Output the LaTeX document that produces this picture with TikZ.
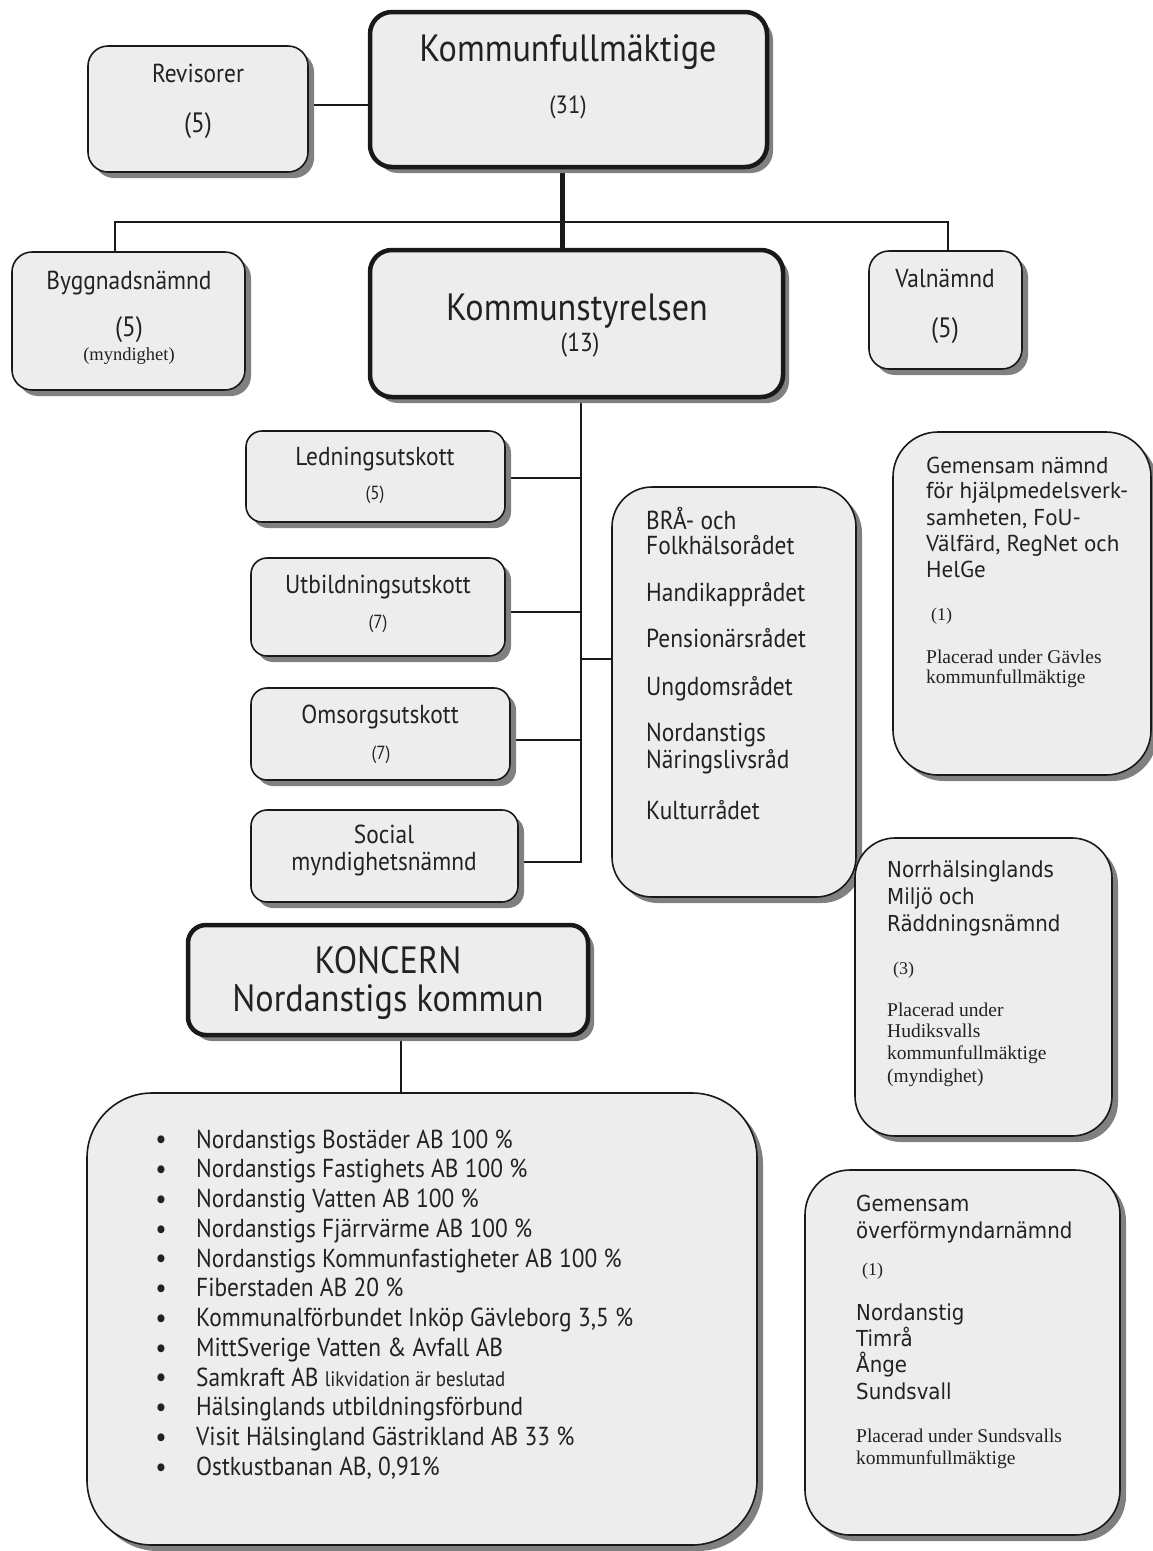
\documentclass[tikz,border=0pt]{standalone}
\usepackage{fontspec}
\setmainfont{PT Sans}[FakeStretch=0.9]
\newfontfamily\widesans{PT Sans}
\newfontfamily\verd{DejaVu Sans}[FakeStretch=0.9]
\newfontfamily\serfont{Liberation Serif}
\usetikzlibrary{shadows,backgrounds}
\definecolor{boxfill}{HTML}{EDEDED}
\definecolor{shadowgray}{HTML}{808080}
\definecolor{ink}{HTML}{222222}
\newcommand\fs[1]{\fontsize{#1}{#1}\selectfont}
\tikzset{
  box/.style={draw=black!90, line width=1.6pt, fill=boxfill, rounded corners=#1, inner sep=0pt,
    drop shadow={shadow xshift=6pt, shadow yshift=-6pt, fill=shadowgray, opacity=1}},
  box/.default=18pt,
  thickbox/.style={box=#1, line width=4.5pt},
  thickbox/.default=18pt,
  tc/.style={inner sep=0pt, anchor=base, text=ink},
  tw/.style={inner sep=0pt, anchor=base west, text=ink},
  ts/.style={font=\fs{#1}, yshift=-#1*0.35pt},
  tser/.style={font=\serfont\fs{#1}, yshift=-#1*0.35pt},
  twide/.style={font=\widesans\fs{#1}, yshift=-#1*0.35pt},
  tverd/.style={font=\verd\fs{#1}, yshift=-#1*0.35pt},
  conn/.style={draw=black!90, line width=1.3pt},
}
\begin{document}
\begin{tikzpicture}[x=1pt,y=-1pt]
\useasboundingbox (0,0) rectangle (1153,1551);
% boxes
\node[box=20pt, minimum width=220pt, minimum height=126pt] (rev) at (198,109) {};
\node[thickbox=22pt, minimum width=397pt, minimum height=155pt] (kf) at (568.5,89.5) {};
\node[box=20pt, minimum width=233pt, minimum height=138pt] (bygg) at (128.5,321) {};
\node[thickbox=22pt, minimum width=413pt, minimum height=147pt] (ks) at (576.5,323.5) {};
\node[box=20pt, minimum width=153pt, minimum height=118pt] (val) at (945.5,310) {};
\node[box=16pt, minimum width=259pt, minimum height=91pt] (led) at (375.5,476.5) {};
\node[box=16pt, minimum width=254pt, minimum height=98pt] (utb) at (378,607) {};
\node[box=16pt, minimum width=259pt, minimum height=92pt] (oms) at (380.5,734) {};
\node[box=16pt, minimum width=267pt, minimum height=92pt] (soc) at (384.5,856) {};
\node[box=40pt, minimum width=244pt, minimum height=410pt] (rad) at (734,692) {};
\node[box=45pt, minimum width=258pt, minimum height=343pt] (gem) at (1022,603.5) {};
\node[box=40pt, minimum width=257pt, minimum height=298pt] (norr) at (983.5,987) {};
\node[box=45pt, minimum width=315pt, minimum height=365pt] (over) at (962.5,1352.5) {};
\node[thickbox=18pt, minimum width=400pt, minimum height=110pt] (kon) at (388,980) {};
\node[box=65pt, minimum width=670pt, minimum height=452pt] (list) at (422,1319) {};

% texts
\node[tc, ts=38] (kft) at (568,48) {Kommunfullmäktige};
\node[tc, ts=25] (kfn) at (568,105) {(31)};
\node[tc, ts=38] (kst) at (577,307) {Kommunstyrelsen};
\node[tc, ts=26] (ksn) at (580,342) {(13)};
\node[tc, ts=26] (revt) at (198,73) {Revisorer};
\node[tc, ts=28] (revn) at (198,123) {(5)};
\node[tc, ts=26] (byggt) at (129,280) {Byggnadsnämnd};
\node[tc, ts=28] (byggn) at (129,327) {(5)};
\node[tc, tser=18.5] (byggm) at (129,354) {(myndighet)};
\node[tc, ts=26] (valt) at (945,278) {Valnämnd};
\node[tc, ts=28] (valn) at (945,328) {(5)};
\node[tc, ts=26] (ledt) at (375,456) {Ledningsutskott};
\node[tc, ts=19] (ledn) at (375,493) {(5)};
\node[tc, ts=26] (utbt) at (378,584) {Utbildningsutskott};
\node[tc, ts=19] (utbn) at (378,622) {(7)};
\node[tc, ts=26] (omst) at (380,714) {Omsorgsutskott};
\node[tc, ts=19] (omsn) at (381,753) {(7)};
\node[tc, ts=26] (soct1) at (384,834) {Social};
\node[tc, ts=26] (soct2) at (384,861) {myndighetsnämnd};
% councils
\node[tw, ts=26] (r1) at (646,520) {BRÅ- och};
\node[tw, ts=26] (r2) at (646,545) {Folkhälsorådet};
\node[tw, ts=26] (r3) at (646,592) {Handikapprådet};
\node[tw, ts=26] (r4) at (646,638) {Pensionärsrådet};
\node[tw, ts=26] (r5) at (646,686) {Ungdomsrådet};
\node[tw, ts=26] (r6) at (646,732) {Nordanstigs};
\node[tw, ts=26] (r7) at (646,759) {Näringslivsråd};
\node[tw, ts=26] (r8) at (646,810) {Kulturrådet};
% gemensam nämnd
\node[tw, twide=23] (g1) at (926,465) {Gemensam nämnd};
\node[tw, twide=23] (g2) at (926,490) {för hjälpmedelsverk-};
\node[tw, twide=23] (g3) at (926,517) {samheten, FoU-};
\node[tw, twide=23] (g4) at (926,543) {Välfärd, RegNet och};
\node[tw, twide=23] (g5) at (926,569) {HelGe};
\node[tw, tser=18] (g6) at (931,614) {(1)};
\node[tw, tser=19.5] (g7) at (926,657) {Placerad under Gävles};
\node[tw, tser=19.5] (g8) at (926,677) {kommunfullmäktige};
% norrhälsinglands
\node[tw, tverd=22] (n1) at (887,870) {Norrhälsinglands};
\node[tw, tverd=22] (n2) at (887,897) {Miljö och};
\node[tw, tverd=22] (n3) at (887,924) {Räddningsnämnd};
\node[tw, tser=18] (n4) at (893,968) {(3)};
\node[tw, tser=19.5] (n5) at (887,1010) {Placerad under};
\node[tw, tser=19.5] (n6) at (887,1031) {Hudiksvalls};
\node[tw, tser=19.5] (n7) at (887,1053) {kommunfullmäktige};
\node[tw, tser=19.5] (n8) at (887,1076) {(myndighet)};
% överförmyndarnämnd
\node[tw, tverd=22] (o1) at (856,1204) {Gemensam};
\node[tw, tverd=22] (o2) at (856,1231) {överförmyndarnämnd};
\node[tw, tser=18] (o3) at (862,1269) {(1)};
\node[tw, tverd=22] (o4) at (856,1313) {Nordanstig};
\node[tw, tverd=22] (o5) at (856,1339) {Timrå};
\node[tw, tverd=22] (o6) at (856,1365) {Ånge};
\node[tw, tverd=22] (o7) at (856,1392) {Sundsvall};
\node[tw, tser=19.5] (o8) at (856,1436) {Placerad under Sundsvalls};
\node[tw, tser=19.5] (o9) at (856,1458) {kommunfullmäktige};
% koncern
\node[tc, ts=38] (kon1) at (388,960) {KONCERN};
\node[tc, ts=38] (kon2) at (388,998) {Nordanstigs kommun};
% list
\foreach \i/\t in {0/{Nordanstigs Bostäder AB 100 \%},
  1/{Nordanstigs Fastighets AB 100 \%},
  2/{Nordanstig Vatten AB 100 \%},
  3/{Nordanstigs Fjärrvärme AB 100 \%},
  4/{Nordanstigs Kommunfastigheter AB 100 \%},
  5/{Fiberstaden AB 20 \%},
  6/{Kommunalförbundet Inköp Gävleborg 3,5 \%},
  7/{MittSverige Vatten \& Avfall AB},
  8/{Samkraft AB {\fs{21}likvidation är beslutad}},
  9/{Hälsinglands utbildningsförbund},
  10/{Visit Hälsingland Gästrikland AB 33 \%},
  11/{Ostkustbanan AB, 0,91\%}}{
  \node[tc, ts=28] (b\i) at (161,1139+29.75*\i) {•};
  \node[tw, ts=26] (l\i) at (196,1139+29.75*\i) {\t};
}

% connectors
\coordinate (kfx) at (562,0);
\coordinate (hy) at (0,222);
\coordinate (bx) at (115,0);
\coordinate (vx) at (948,0);
\coordinate (trunk) at (581,862);
\coordinate (tL) at (581,478);
\coordinate (tU) at (581,612);
\coordinate (tO) at (581,740);
\coordinate (tR) at (581,659);
\coordinate (kx) at (401,0);
\begin{scope}[on background layer]
\fill[white] (0,0) rectangle (1153,1551);
\draw[conn] (rev.east |- 0,105) -- (kf.west |- 0,105);
\draw[conn, line width=5pt] (kf.south -| kfx) -- (ks.north -| kfx);
\draw[conn] (bygg.north -| bx) |- (hy -| vx) -- (val.north -| vx);
\draw[conn] (ks.south -| trunk) -- (trunk) -- (soc.east |- trunk);
\draw[conn] (led.east |- tL) -- (tL);
\draw[conn, line width=2.6pt] (utb.east |- tU) -- (tU);
\draw[conn] (oms.east |- tO) -- (tO);
\draw[conn] (tR) -- (rad.west |- tR);
\draw[conn] (kon.south -| kx) -- (list.north -| kx);
\end{scope}
\end{tikzpicture}
\end{document}
